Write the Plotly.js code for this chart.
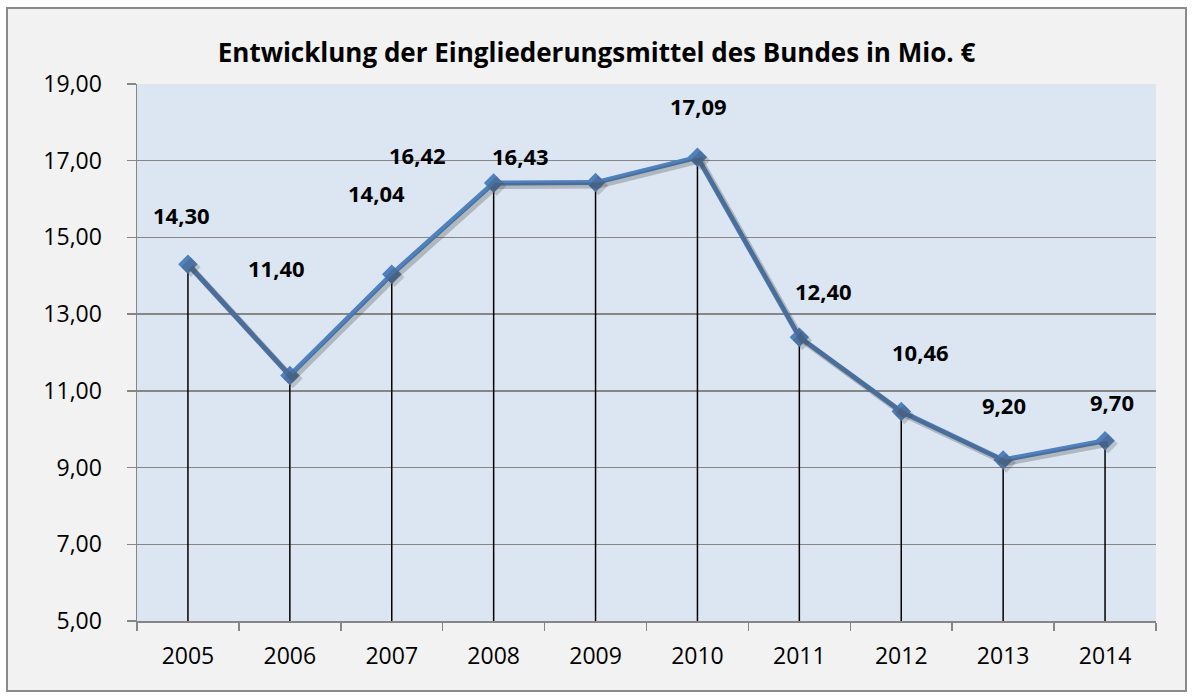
<!DOCTYPE html>
<html>
<head>
<meta charset="utf-8">
<script src="https://cdn.plot.ly/plotly-3.0.1.min.js"></script>
<style>
  html, body { margin: 0; padding: 0; background: #ffffff; }
  #chart { position: absolute; left: 6px; top: 7px; width: 1177px; height: 681px; border: 2px solid #8a8a8a; }
</style>
</head>
<body>
<div id="chart"></div>
<script>
const years = ["2005","2006","2007","2008","2009","2010","2011","2012","2013","2014"];
const values = [14.30, 11.40, 14.04, 16.42, 16.43, 17.09, 12.40, 10.46, 9.20, 9.70];
const yTicks = [5, 7, 9, 11, 13, 15, 17, 19];
const titleText = "Entwicklung der Eingliederungsmittel des Bundes in Mio. €";

// label offsets in pixels (style only)
const labelDx = [-6, -13, -15, -76, -75, 1, 24, 19, 1, 7];
const labelDy = [49, 108, 81, 28, 27, 51, 46, 60, 55, 39];

const yMin = yTicks[0], yMax = yTicks[yTicks.length - 1];
const fmt = v => v.toFixed(2).replace('.', ',');

// shadow offset in pixels -> axis units
const plotW = 1177 - 129 - 29, plotH = 681 - 75 - 69;
const shX = 3 * years.length / plotW, shY = 3 * (yMax - yMin) / plotH;

const dropTrace = {
  x: years, y: values, type: 'scatter', mode: 'markers',
  marker: { size: 1, opacity: 0 },
  error_y: { type: 'data', symmetric: false, array: values.map(() => 0),
             arrayminus: values.map(v => v - yMin), color: '#000000', thickness: 1.5, width: 0 },
  hoverinfo: 'skip', showlegend: false
};
const shadowTrace = {
  x: years, y: values, type: 'scatter', mode: 'lines+markers', xaxis: 'x2', yaxis: 'y2',
  line: { color: 'rgba(60,60,60,0.28)', width: 6 },
  marker: { symbol: 'diamond', size: 15, color: 'rgba(60,60,60,0.22)' },
  hoverinfo: 'skip', showlegend: false
};
const lineTrace = {
  x: years, y: values, type: 'scatter', mode: 'lines+markers',
  line: { color: '#4f81bd', width: 5 },
  marker: { symbol: 'diamond', size: 15, color: '#4f81bd' },
  showlegend: false
};

const annotations = years.map((yr, i) => ({
  x: i, y: values[i], xref: 'x', yref: 'y', text: '<b>' + fmt(values[i]) + '</b>', showarrow: false,
  xanchor: 'center', yanchor: 'middle',
  xshift: labelDx[i], yshift: labelDy[i],
  font: { family: 'Open Sans, sans-serif', size: 22, color: '#000000' }
}));

const layout = {
  width: 1177, height: 681,
  margin: { l: 129, r: 29, t: 75, b: 69 },
  paper_bgcolor: '#f2f2f2', plot_bgcolor: '#dce6f2',
  separators: ',.',
  title: { text: '<b>' + titleText + '</b>', x: 0.5, xanchor: 'center', y: 0.935, yanchor: 'middle',
           font: { family: 'Open Sans, sans-serif', size: 26, color: '#000000' } },
  xaxis: {
    type: 'category', range: [-0.5, years.length - 0.5], tickson: 'boundaries',
    ticks: 'outside', ticklen: 8, tickwidth: 1.5, tickcolor: '#868686',
    showline: true, linecolor: '#868686', linewidth: 1.5, showgrid: false,
    ticklabelstandoff: 14,
    tickfont: { family: 'Open Sans, sans-serif', size: 23, color: '#000000' }
  },
  yaxis: {
    range: [yMin, yMax], tickvals: yTicks, ticktext: yTicks.map(fmt),
    ticks: 'outside', ticklen: 9, tickwidth: 1.5, tickcolor: '#868686',
    showline: true, linecolor: '#868686', linewidth: 1.5,
    showgrid: true, gridcolor: '#868686', gridwidth: 1.5, zeroline: false,
    ticklabelstandoff: 20,
    tickfont: { family: 'Open Sans, sans-serif', size: 23, color: '#000000' }
  },
  xaxis2: { type: 'category', overlaying: 'x', range: [-0.5 - shX, years.length - 0.5 - shX], visible: false },
  yaxis2: { overlaying: 'y', range: [yMin + shY, yMax + shY], visible: false },
  annotations: annotations
};

Plotly.newPlot('chart', [dropTrace, shadowTrace, lineTrace], layout, { displayModeBar: false, staticPlot: true });
</script>
</body>
</html>
